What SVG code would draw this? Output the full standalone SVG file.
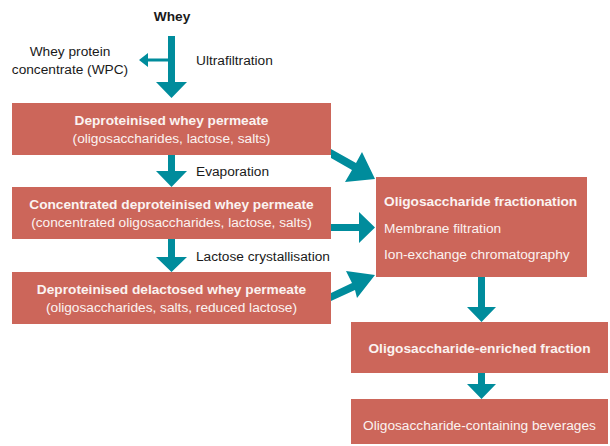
<svg xmlns="http://www.w3.org/2000/svg" width="610" height="446" viewBox="0 0 610 446">
<style>
.box{fill:#CC665A}
.arr{fill:#008C9C}
text{font-family:"Liberation Sans",Arial,sans-serif;font-size:13.7px}
.w{fill:#FBF3F1}
.k{fill:#1a1a1a}
.b{font-weight:bold}
.c{text-anchor:middle}
</style>
<rect width="610" height="446" fill="#fff"/>
<g id="connectors">
<polygon class="arr" points="168,36 175,36 175,82 187,82 171.5,98 156,82 168,82"/>
<polygon class="arr" points="168,58.5 148,58.5 148,53 139,60 148,67 148,61.5 168,61.5"/>
<polygon class="arr" points="168,155 175,155 175,171 187,171 171.5,187 156,171 168,171"/>
<polygon class="arr" points="168,239 175,239 175,257 187,257 171.5,272 156,257 168,257"/>
<polygon class="arr" points="331,224 359,224 359,212 375,227.5 359,243 359,231 331,231"/>
<polygon class="arr" points="331,149 356,163 362,152 375,179 345,182 352,170 331,158"/>
<polygon class="arr" points="331,293 352,283 346,271 375,275 357,298 355,290 331,301"/>
<polygon class="arr" points="478,277 485,277 485,307 496,307 481.5,322 467,307 478,307"/>
<polygon class="arr" points="478,373 485,373 485,384 496,384 481.5,399 467,384 478,384"/>
</g>
<g id="whey"><text class="k b c" x="172" y="21">Whey</text></g>
<g id="wpc"><text class="k c" x="70" y="56">Whey protein</text><text class="k c" x="70" y="74">concentrate (WPC)</text></g>
<g id="uf"><text class="k" x="196" y="65">Ultrafiltration</text></g>
<g id="box1"><rect class="box" x="12" y="103" width="319" height="52"/>
<text class="w b c" x="171.5" y="125">Deproteinised whey permeate</text>
<text class="w c" x="171.5" y="143">(oligosaccharides, lactose, salts)</text></g>
<g id="evap"><text class="k" x="196" y="176">Evaporation</text></g>
<g id="box2"><rect class="box" x="12" y="187" width="319" height="52"/>
<text class="w b c" x="171.5" y="209">Concentrated deproteinised whey permeate</text>
<text class="w c" x="171.5" y="227">(concentrated oligosaccharides, lactose, salts)</text></g>
<g id="lact"><text class="k" x="196" y="261">Lactose crystallisation</text></g>
<g id="box3"><rect class="box" x="12" y="272" width="319" height="52"/>
<text class="w b c" x="171.5" y="294">Deproteinised delactosed whey permeate</text>
<text class="w c" x="171.5" y="312">(oligosaccharides, salts, reduced lactose)</text></g>
<g id="box4"><rect class="box" x="376" y="177" width="211" height="100"/>
<text class="w b" x="384" y="206">Oligosaccharide fractionation</text>
<text class="w" x="384" y="233">Membrane filtration</text>
<text class="w" x="384" y="259">Ion-exchange chromatography</text></g>
<g id="box5"><rect class="box" x="351" y="322" width="257" height="51"/>
<text class="w b c" x="479.5" y="353">Oligosaccharide-enriched fraction</text></g>
<g id="box6"><rect class="box" x="351" y="399" width="257" height="45"/>
<text class="w c" x="479.5" y="430">Oligosaccharide-containing beverages</text></g>
</svg>
